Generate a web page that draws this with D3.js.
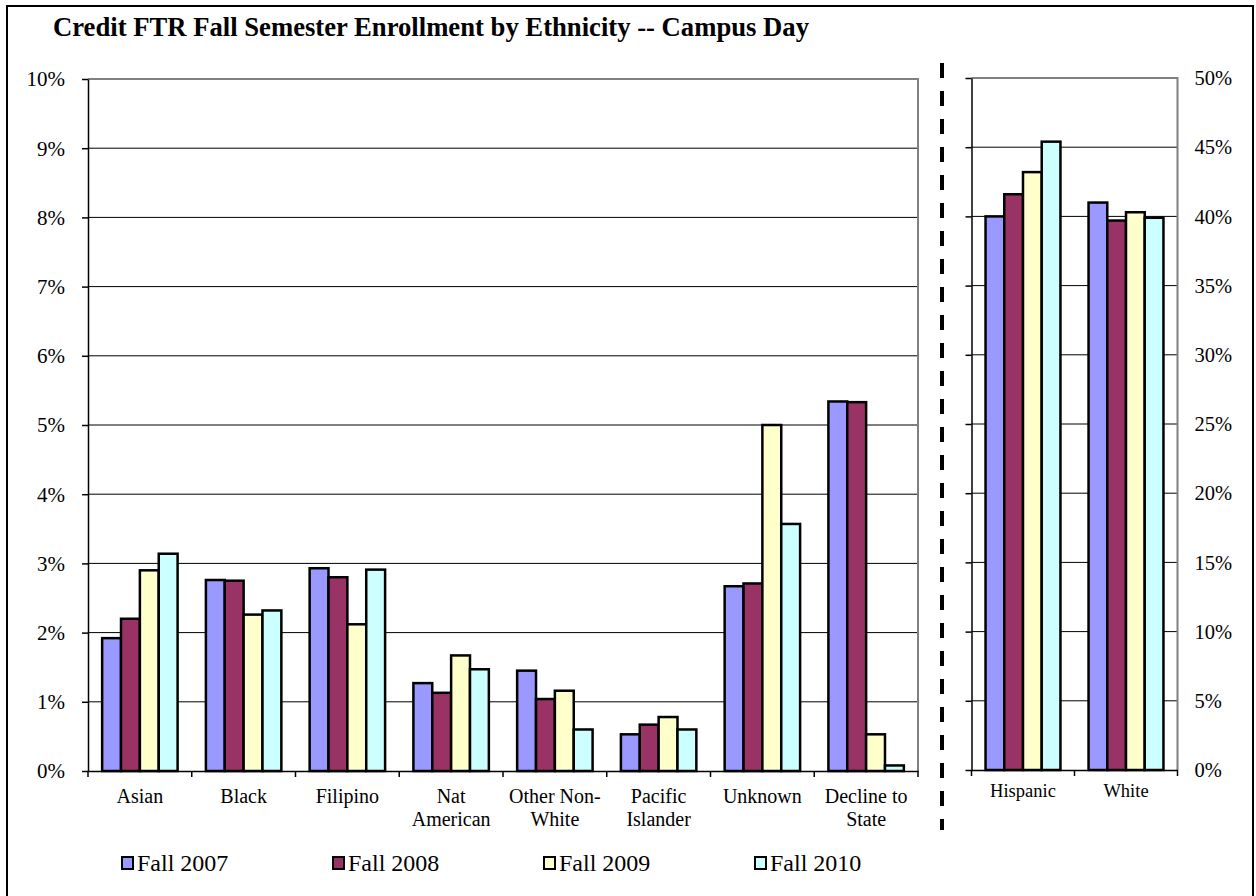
<!DOCTYPE html>
<html>
<head>
<meta charset="utf-8">
<script src="https://cdn.jsdelivr.net/npm/d3@7"></script>
<style>
  body { margin: 0; background: #fff; }
  svg { display: block; }
  svg text { font-family: "Liberation Serif", "Times New Roman", Times, serif; fill: #000; }
  .grid line { stroke: #000; stroke-width: 1; }
  .bar { stroke: #000; stroke-width: 2.5; }
</style>
</head>
<body>
<svg id="chart" width="1256" height="896"></svg>
<script>
// ---- data ----
const seriesNames = ['Fall 2007', 'Fall 2008', 'Fall 2009', 'Fall 2010'];
const seriesColors = ['#9999FF', '#993366', '#FFFFCC', '#CCFFFF'];

const leftCategories = ['Asian', 'Black', 'Filipino', 'Nat American', 'Other Non-White',
                        'Pacific Islander', 'Unknown', 'Decline to State'];
const leftLabelLines = [['Asian'], ['Black'], ['Filipino'], ['Nat', 'American'], ['Other Non-', 'White'],
                        ['Pacific', 'Islander'], ['Unknown'], ['Decline to', 'State']];
const fall2007Left = [1.92, 2.76, 2.93, 1.27, 1.45, 0.53, 2.67, 5.34];
const fall2008Left = [2.20, 2.75, 2.80, 1.13, 1.04, 0.67, 2.71, 5.33];
const fall2009Left = [2.90, 2.26, 2.12, 1.67, 1.16, 0.78, 5.00, 0.53];
const fall2010Left = [3.14, 2.32, 2.91, 1.47, 0.60, 0.60, 3.57, 0.08];
const leftTicks = [0, 1, 2, 3, 4, 5, 6, 7, 8, 9, 10];

const rightCategories = ['Hispanic', 'White'];
const fall2007Right = [40.0, 41.0];
const fall2008Right = [41.6, 39.7];
const fall2009Right = [43.2, 40.3];
const fall2010Right = [45.4, 39.9];
const rightTicks = [0, 5, 10, 15, 20, 25, 30, 35, 40, 45, 50];

const title = 'Credit FTR Fall Semester Enrollment by Ethnicity -- Campus Day';
const SERIF = '"Liberation Serif", "Times New Roman", Times, serif';

// ---- layout ----
const svg = d3.select('#chart');

// outer frame
svg.append('rect')
    .attr('x', 7).attr('y', 6)
    .attr('width', 1246).attr('height', 900)
    .attr('fill', 'none').attr('stroke', '#000').attr('stroke-width', 2);

// title, fitted to the width it has in the reference
const titleText = svg.append('text')
    .attr('x', 53).attr('y', 36)
    .attr('font-family', SERIF)
    .attr('font-weight', 'bold')
    .attr('font-size', 26.6)
    .text(title);
const tw = titleText.node().getComputedTextLength();
if (tw > 0) titleText.attr('font-size', 26.6 * 756 / tw);

function drawPanel(opts) {
    const { x0, x1, yTop, yBottom, categories, labelLines, series, ticks, tickFmt,
            labelSide, labelFont, catFont, catBaseline } = opts;

    const x = d3.scaleBand().domain(categories).range([x0, x1]).paddingInner(0).paddingOuter(0);
    const xs = d3.scaleBand().domain(seriesNames).range([0, x.bandwidth()])
        .paddingInner(0).paddingOuter(0.75);
    const y = d3.scaleLinear().domain([ticks[0], ticks[ticks.length - 1]]).range([yBottom, yTop]);

    const g = svg.append('g');

    // gridlines
    g.append('g').attr('class', 'grid')
        .selectAll('line')
        .data(ticks.slice(1, -1))
        .join('line')
        .attr('x1', x0).attr('x2', x1)
        .attr('y1', d => y(d)).attr('y2', d => y(d));

    // plot border (top + right grey)
    g.append('path')
        .attr('d', `M${x0},${y(ticks[ticks.length - 1])}H${x1}V${yBottom}`)
        .attr('fill', 'none').attr('stroke', '#808080').attr('stroke-width', 2);

    // bars
    series.forEach((vals, si) => {
        g.append('g').selectAll('rect')
            .data(vals.map((v, i) => ({ cat: categories[i], v })))
            .join('rect')
            .attr('class', 'bar')
            .attr('x', d => x(d.cat) + xs(seriesNames[si]))
            .attr('width', xs.bandwidth())
            .attr('y', d => y(d.v))
            .attr('height', d => yBottom - y(d.v))
            .attr('fill', seriesColors[si]);
    });

    // value axis on the left side of the plot (ticks outward)
    const yAxis = g.append('g')
        .attr('transform', `translate(${x0},0)`)
        .call(d3.axisLeft(y).tickValues(ticks).tickSize(6).tickSizeOuter(0).tickFormat(''));
    yAxis.select('.domain').attr('stroke', '#000').attr('stroke-width', 1.5);
    yAxis.selectAll('.tick line').attr('stroke', '#000').attr('stroke-width', 1.5);

    // tick labels
    g.append('g').selectAll('text')
        .data(ticks)
        .join('text')
        .attr('x', labelSide === 'left' ? x0 - 23 : x1 + 17)
        .attr('y', d => y(d))
        .attr('dy', '0.35em')
        .attr('text-anchor', labelSide === 'left' ? 'end' : 'start')
        .attr('font-family', SERIF)
        .attr('font-size', labelFont)
        .text(tickFmt);

    // category axis
    const xAxis = g.append('g')
        .attr('transform', `translate(0,${yBottom})`)
        .call(d3.axisBottom(x).tickSize(0).tickFormat(''));
    xAxis.select('.domain').attr('stroke', '#000').attr('stroke-width', 1.5);
    // ticks between categories
    const bounds = categories.map(c => x(c)).concat([x1]);
    g.append('g').selectAll('line')
        .data(bounds)
        .join('line')
        .attr('x1', d => d).attr('x2', d => d)
        .attr('y1', yBottom).attr('y2', yBottom + 6)
        .attr('stroke', '#000').attr('stroke-width', 1.5);

    // category labels
    const cl = g.append('g').selectAll('text')
        .data(categories)
        .join('text')
        .attr('x', d => x(d) + x.bandwidth() / 2)
        .attr('y', catBaseline)
        .attr('text-anchor', 'middle')
        .attr('font-family', SERIF)
        .attr('font-size', catFont);
    cl.each(function(d, i) {
        const lines = labelLines[i];
        d3.select(this).selectAll('tspan')
            .data(lines)
            .join('tspan')
            .attr('x', x(d) + x.bandwidth() / 2)
            .attr('dy', (l, j) => j === 0 ? 0 : 22.5)
            .text(l => l);
    });
}

drawPanel({
    x0: 88, x1: 918, yTop: 79, yBottom: 771,
    categories: leftCategories, labelLines: leftLabelLines,
    series: [fall2007Left, fall2008Left, fall2009Left, fall2010Left],
    ticks: leftTicks, tickFmt: d => d + '%',
    labelSide: 'left', labelFont: 21, catFont: 20, catBaseline: 803
});

drawPanel({
    x0: 971.5, x1: 1177.5, yTop: 78, yBottom: 770,
    categories: rightCategories, labelLines: rightCategories.map(c => [c]),
    series: [fall2007Right, fall2008Right, fall2009Right, fall2010Right],
    ticks: rightTicks, tickFmt: d => d + '%',
    labelSide: 'right', labelFont: 20.5, catFont: 18.5, catBaseline: 797
});

// dashed separator between the two panels
svg.append('line')
    .attr('x1', 942).attr('x2', 942)
    .attr('y1', 63).attr('y2', 830)
    .attr('stroke', '#000').attr('stroke-width', 4)
    .attr('stroke-dasharray', '15 13');

// legend
const legend = svg.append('g')
    .selectAll('g')
    .data(seriesNames)
    .join('g')
    .attr('transform', (d, i) => `translate(${122 + i * 211},857)`);
legend.append('rect')
    .attr('width', 11).attr('height', 12)
    .attr('fill', (d, i) => seriesColors[i])
    .attr('stroke', '#000').attr('stroke-width', 2);
legend.append('text')
    .attr('x', 15).attr('y', 13.5)
    .attr('font-family', SERIF)
    .attr('font-size', 24)
    .text(d => d);
</script>
</body>
</html>
